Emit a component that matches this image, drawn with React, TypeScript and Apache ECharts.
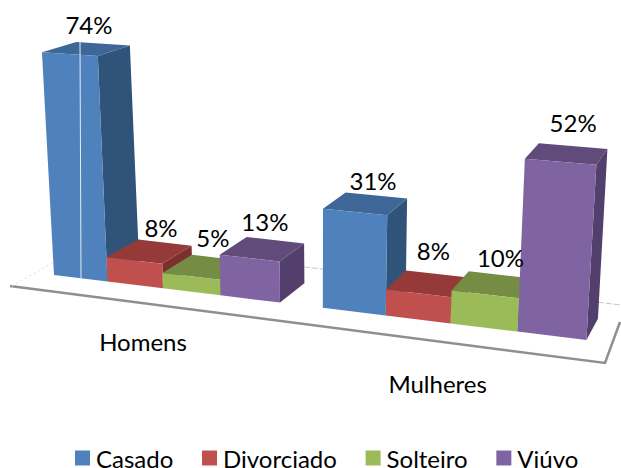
import React, { useEffect, useRef } from "react";
import * as echarts from "echarts";

const categories = ["Homens", "Mulheres"];
const seriesNames = ["Casado", "Divorciado", "Solteiro", "Viúvo"];
const casado = [74, 31];
const divorciado = [8, 8];
const solteiro = [5, 10];
const viuvo = [13, 52];
const seriesValues = [casado, divorciado, solteiro, viuvo];

const frontColors = ["#4F81BD", "#C0504D", "#9BBB59", "#8064A2"];
const topColors = ["#3E6797", "#953A38", "#748C43", "#604B7A"];
const sideColors = ["#305379", "#7B302E", "#5F7436", "#523F6B"];

// hand-placed data labels: nudge per [series][category]
const labelNudge = [
  [[-5, 3], [0, 4]],
  [[4, 3], [-2, -6]],
  [[0, -3], [0, 0]],
  [[-5, -1], [-1, -4]],
];
const categoryNudge = [[-20, 53], [-13, 60]];

const BARS_PER_BAND = 4.7; // four touching bars + gap
const FONT = "Lato";
const FONT_SIZE = 24;
const W = 621;
const H = 468;
const GRID = { left: 50, top: 30, width: 475, height: 240 };
const PX_PER_UNIT = GRID.height / 80;

// Perspective projection of the floor / front plane
function baseX(u: number) { return 54 + 52.5 * u + u * u; }
function front(u: number, h: number): [number, number] {
  const bx = baseX(u);
  const by = 275 + (bx - 54) * 0.122;
  const s = (3.01 + (bx - 54) * 0.000675) / PX_PER_UNIT;
  const ph = h * s;
  return [bx + ph * (bx - 314) * 0.000208, by - ph];
}
function back(p: [number, number], h: number): [number, number] {
  const t = p[0] - 42;
  return [
    p[0] + 34.4 - 0.0421 * t,
    p[1] - (18 + 0.006 * t - (0.105 * h) / PX_PER_UNIT),
  ];
}

function barGeometry(api: any, slot: number) {
  const cat = api.value(0);
  const top = api.coord([cat, api.value(1)]);
  const base = api.coord([cat, 0]);
  const origin = api.coord([0, 0])[0];
  const unit = api.size([1, 0])[0] / BARS_PER_BAND;
  const h = base[1] - top[1];
  const left = (base[0] + (slot - 2) * unit - origin) / unit + 2;
  const right = left + 1;
  const fl0 = front(left, 0);
  const fr0 = front(right, 0);
  const fl = front(left, h);
  const fr = front(right, h);
  return { cat, h, fl0, fr0, fl, fr, bl: back(fl, h), br: back(fr, h), br0: back(fr0, 0) };
}

function App() {
  const ref = useRef<HTMLDivElement>(null);
  useEffect(() => {
    document.body.style.margin = "0";
    const chart = echarts.init(ref.current!, undefined, { renderer: "svg" });
    const barSeries = seriesNames.map((name, slot) => ({
      name,
      type: "custom",
      z: 3,
      clip: false,
      coordinateSystem: "cartesian2d",
      itemStyle: { color: frontColors[slot] },
      encode: { x: 0, y: 1 },
      data: seriesValues[slot].map((v, i) => [i, v]),
      renderItem: (_: any, api: any) => {
        const g = barGeometry(api, slot);
        return {
          type: "group",
          children: [
            { type: "polygon", shape: { points: [g.fr0, g.fr, g.br, g.br0] }, style: { fill: sideColors[slot] } },
            { type: "polygon", shape: { points: [g.fl, g.bl, g.br, g.fr] }, style: { fill: topColors[slot] } },
            { type: "polygon", shape: { points: [g.fl0, g.fl, g.fr, g.fr0] }, style: { fill: frontColors[slot] } },
          ],
        };
      },
    }));
    const labelSeries = seriesNames.map((name, slot) => ({
      name: name + " rótulos",
      type: "custom",
      z: 6,
      clip: false,
      encode: { x: 0, y: 1 },
      data: seriesValues[slot].map((v, i) => [i, v]),
      renderItem: (_: any, api: any) => {
        const g = barGeometry(api, slot);
        const n = labelNudge[slot][g.cat];
        const cx = (g.fl[0] + g.br[0]) / 2 + 8 + n[0];
        const cy = (g.fl[1] + g.br[1]) / 2 - 27 + n[1];
        return {
          type: "text",
          x: cx,
          y: cy,
          style: {
            text: api.value(1) + "%",
            fill: "#000",
            font: `${FONT_SIZE}px ${FONT}`,
            align: "center",
            verticalAlign: "middle",
          },
        };
      },
    }));
    const categorySeries = {
      name: "categorias",
      type: "custom",
      z: 6,
      clip: false,
      encode: { x: 0, y: 1 },
      data: categories.map((_, i) => [i, 0]),
      renderItem: (_: any, api: any) => {
        const cat = api.value(0);
        const u = cat === 0 ? 2 : 2 + BARS_PER_BAND;
        const p = front(u, 0);
        return {
          type: "text",
          x: p[0] + categoryNudge[cat][0],
          y: p[1] + categoryNudge[cat][1],
          style: {
            text: categories[cat],
            fill: "#000",
            font: `${FONT_SIZE}px ${FONT}`,
            align: "center",
            verticalAlign: "middle",
          },
        };
      },
    };
    chart.setOption({
      animation: false,
      backgroundColor: "#fff",
      grid: { ...GRID, containLabel: false },
      xAxis: { type: "category", data: categories, show: false },
      yAxis: { type: "value", min: 0, max: 80, show: false },
      legend: {
        data: seriesNames,
        left: 75,
        top: 446,
        padding: 0,
        icon: "rect",
        itemWidth: 15,
        itemHeight: 15,
        itemGap: 28.7,
        selectedMode: false,
        textStyle: { fontFamily: FONT, fontSize: FONT_SIZE, color: "#000", lineHeight: 24, padding: [0, 0, 0, 1] },
      },
      graphic: [
        { type: "polyline", z: 1, shape: { points: [[10, 286], [605, 363], [620, 322]] }, style: { stroke: "#8f8f8f", lineWidth: 2.5, fill: "none" } },
        { type: "line", z: 1, shape: { x1: 12, y1: 286, x2: 54, y2: 262 }, style: { stroke: "#dcdcdc", lineWidth: 1, lineDash: [2, 3] } },
        { type: "line", z: 1, shape: { x1: 280, y1: 264, x2: 621, y2: 305 }, style: { stroke: "#c8c8c8", lineWidth: 1, lineDash: [6, 2] } },
        { type: "line", z: 5, shape: { x1: 80, y1: 42, x2: 81, y2: 278 }, style: { stroke: "#e4ecf6", lineWidth: 1 } },
      ],
      series: [...barSeries, ...labelSeries, categorySeries],
    });
    return () => chart.dispose();
  }, []);
  return <div ref={ref} style={{ width: W, height: H }} />;
}

export default App;
